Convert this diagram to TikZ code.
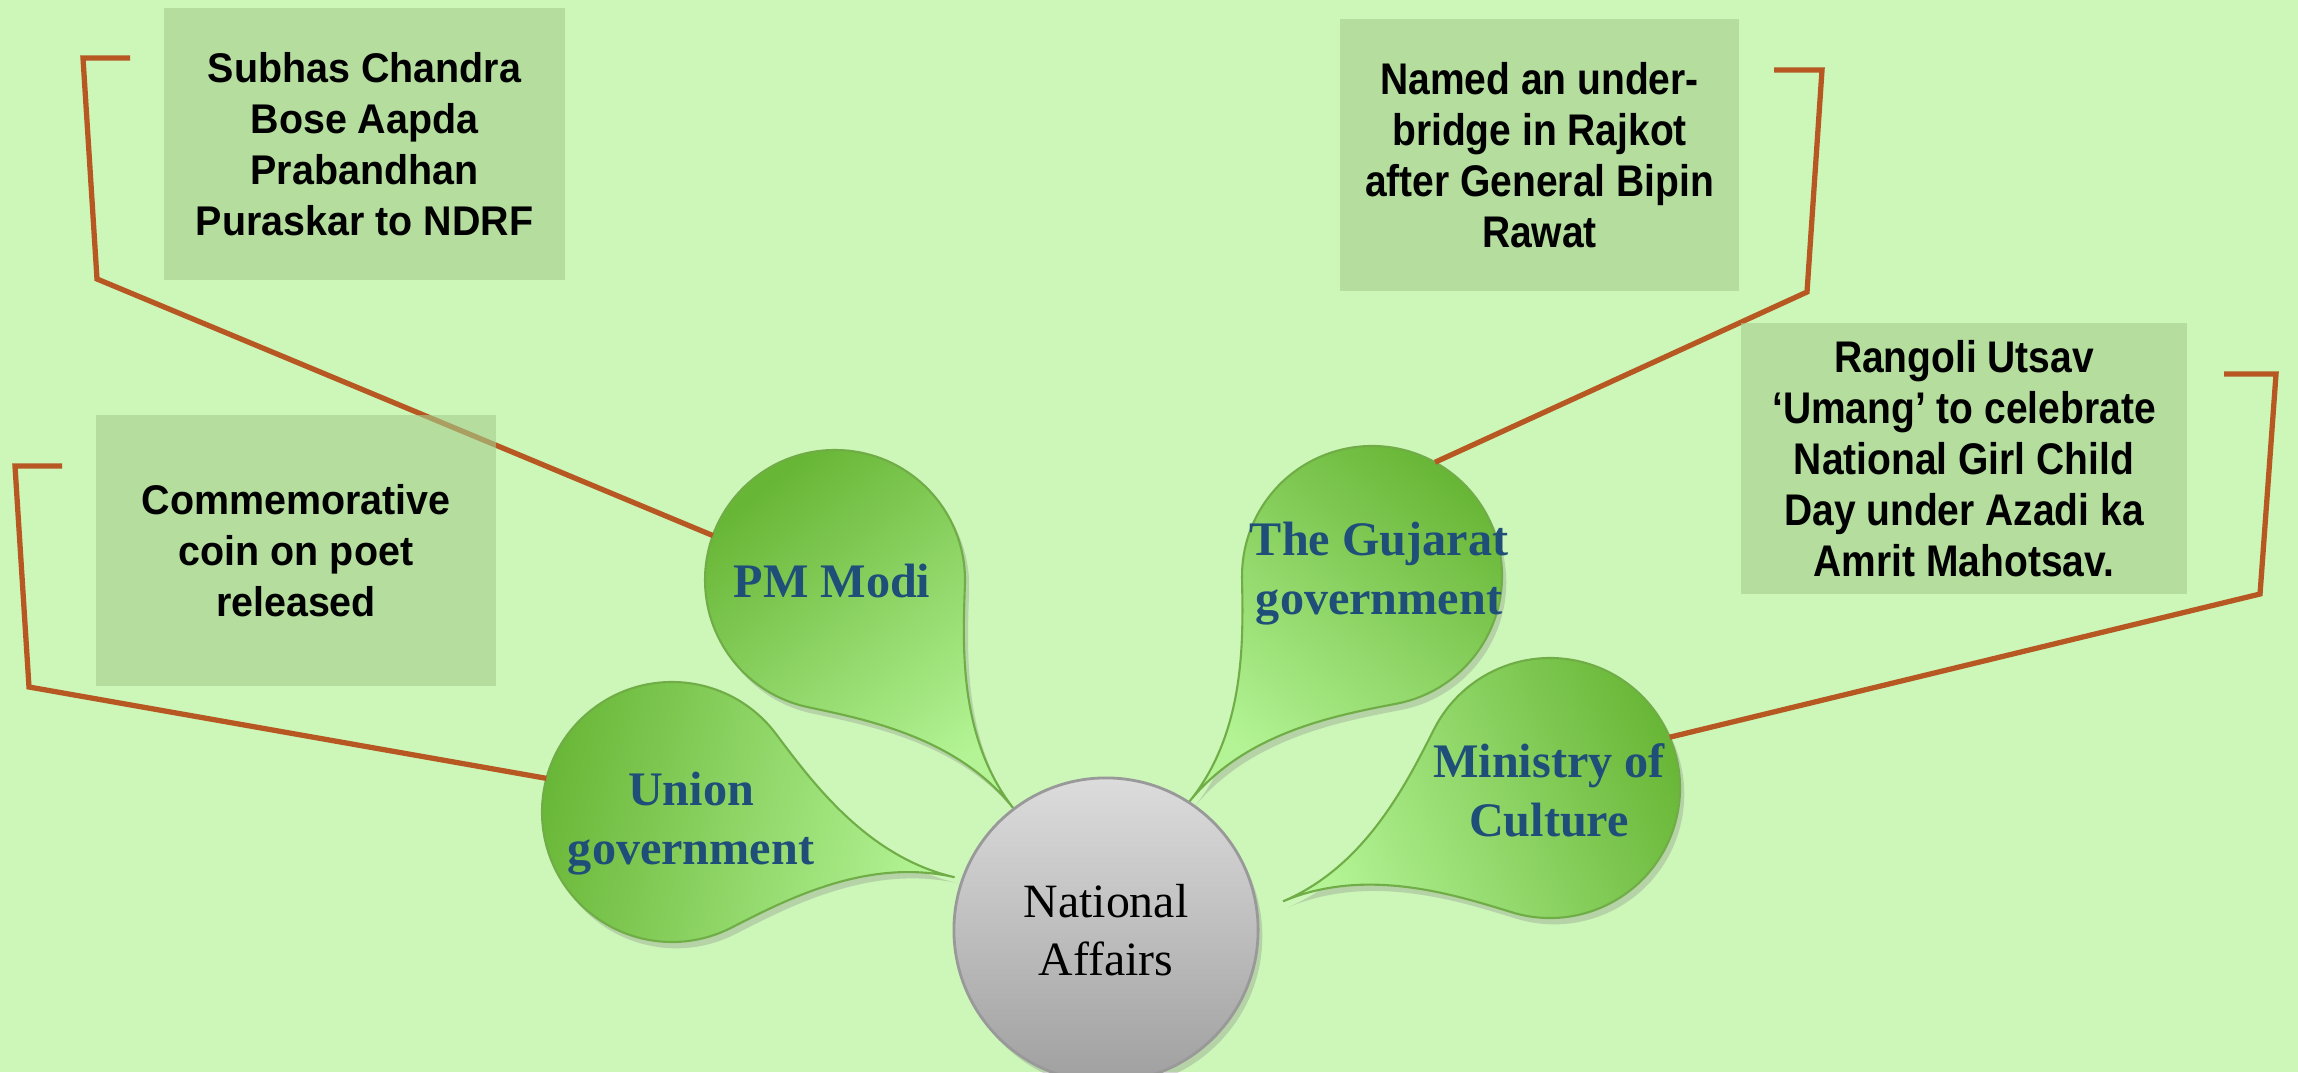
\documentclass[tikz,border=0pt]{standalone}
\usepackage{fontspec}
\setmainfont{Liberation Serif}
\newfontfamily\boxfont[FakeStretch=0.95]{Liberation Sans}
\newfontfamily\narrowfont[FakeStretch=0.88]{Liberation Sans}
\usepackage{tikz}
\usetikzlibrary{positioning,shadows}

\definecolor{bggreen}{RGB}{204,247,185}
\definecolor{boxfill}{RGB}{164,205,140}
\definecolor{leafdark}{RGB}{104,182,54}
\definecolor{leaflight}{RGB}{180,244,150}
\definecolor{leafedge}{RGB}{112,173,71}
\definecolor{linkbrown}{RGB}{183,88,34}
\definecolor{textblue}{RGB}{31,78,121}
\definecolor{hubtop}{RGB}{220,220,220}
\definecolor{hubbottom}{RGB}{160,160,160}

\begin{document}
\begin{tikzpicture}[x=0.01cm,y=0.01cm,
		infobox/.style={fill=boxfill,fill opacity=0.6,text opacity=1,inner sep=0pt,align=center,
			font=\boxfont\bfseries\fontsize{11.8}{14.5}\selectfont},
		narrowbox/.style={infobox,font=\narrowfont\bfseries\fontsize{12.6}{14.5}\selectfont},
		link/.style={draw=linkbrown,line width=1.5pt},
		bubble/.style={circle,minimum size=2.6cm,inner sep=0pt,outer sep=0pt},
		bubbleshape/.style={top color=leafdark,bottom color=leaflight,draw=leafedge,line width=0.6pt,
			drop shadow={shadow xshift=1.2pt,shadow yshift=-1.8pt,opacity=0.3}},
		bubbletext/.style={align=center,text=textblue,font=\bfseries\fontsize{13.7}{16.8}\selectfont},
		hub/.style={circle,minimum size=3.04cm,inner sep=0pt,top color=hubtop,bottom color=hubbottom,
			draw=black!40,line width=0.8pt,align=center,font=\fontsize{13.6}{16.5}\selectfont,
			drop shadow={shadow xshift=1.2pt,shadow yshift=-1.8pt,opacity=0.3}}]
		% Background
		\fill[bggreen] (0,0) rectangle (2298,1072);
		\useasboundingbox (0,0) rectangle (2298,1072);
		\clip (0,0) rectangle (2298,1072);
		
		% Bubbles round the hub
		\foreach \name/\cx/\cy/\tip in {pm/835/492/-52,union/672/260/-13,gujarat/1372/496/-129,ministry/1550/284/203}{
			\pgfmathsetmacro\from{\tip+50}
			\pgfmathsetmacro\to{\tip+310}
			\pgfmathsetmacro\shang{\tip+90}
			\path[bubbleshape,shading angle=\shang]
			([shift={(\from:130)}]\cx,\cy) arc[start angle=\from,end angle=\to,radius=130]
			.. controls +(\tip+40:60) and +(\tip+180:90) .. ([shift={(\tip:290)}]\cx,\cy)
			.. controls +(\tip+180:90) and +(\tip-40:60) .. ([shift={(\from:130)}]\cx,\cy) -- cycle;
			\node[bubble] (\name) at (\cx,\cy) {};
		}
		\node[bubbletext] (pm-txt) at (832,491) {PM Modi};
		\node[bubbletext] (union-txt) at (691,248) {Union\\government};
		\node[bubbletext] (gujarat-txt) at (1379,498) {The Gujarat\\government};
		\node[bubbletext] (ministry-txt) at (1549,282) {Ministry of\\Culture};
		
		% Hub
		\node[hub] (nat) at (1106,142) {National\\Affairs};
		
		% Connectors
		\coordinate (subhas-tick) at (130,1014);
		\coordinate (coin-tick) at (62,606);
		\coordinate (bridge-tick) at (1774,1002);
		\coordinate (rangoli-tick) at (2224,698);
		\draw[link] (subhas-tick) -- (83,1014) -- (97,793) -- (pm.160);
		\draw[link] (coin-tick) -- (15,606) -- (29,385) -- (union.165);
		\draw[link] (bridge-tick) -- (1822,1002) -- (1807,780) -- (gujarat.61);
		\draw[link] (rangoli-tick) -- (2276,698) -- (2260,478) -- (ministry.23);
		
		% Text boxes
		\node[infobox,minimum width=4.01cm,minimum height=2.72cm] (subhas) at (364.5,928)
		{Subhas Chandra\\Bose Aapda\\Prabandhan\\Puraskar to NDRF};
		\node[infobox,minimum width=4.0cm,minimum height=2.71cm] (coin) at (296,521.5)
		{Commemorative\\coin on poet\\released};
		\node[narrowbox,minimum width=3.99cm,minimum height=2.72cm] (bridge) at (1539.5,917)
		{Named an under-\\bridge in Rajkot\\after General Bipin\\Rawat};
		\node[narrowbox,minimum width=4.46cm,minimum height=2.71cm] (rangoli) at (1964,613.5)
		{Rangoli Utsav\\‘Umang’ to celebrate\\National Girl Child\\Day under Azadi ka\\Amrit Mahotsav.};
\end{tikzpicture}
\end{document}
